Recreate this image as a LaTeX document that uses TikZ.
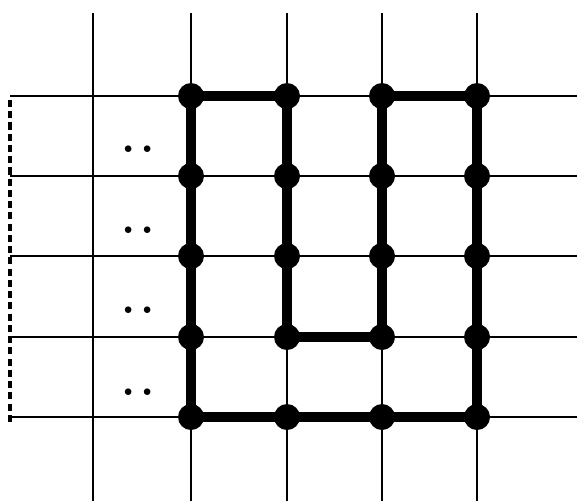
\documentclass[tikz,border=0pt]{standalone}
\usepackage{tikz}

\begin{document}
\begin{tikzpicture}[
x=0.02cm,
y=-0.02cm,
grid line/.style={
line width=1.2pt
},
side line/.style={
line width=2pt,
dash pattern=on 4pt off 2.4pt
},
tour/.style={
line width=5.4pt,
line join=round
},
vertex/.style={
circle,
fill,
inner sep=0pt,
minimum size=0.52cm
},
dots/.style={
anchor=base,
font=\bfseries\fontsize{26}{26}\selectfont
}
]

\useasboundingbox (0,0) rectangle (577,501);

% grid
\foreach \x in {93,191,287,382,477}
  \draw[grid line] (\x,13) -- (\x,501);
\foreach \y in {96,176,256,337,417}
  \draw[grid line] (10,\y) -- (577,\y);
\draw[side line] (10,100) -- (10,423);

% row dots
\foreach \y [count=\k] in {152,233,313,395}
  \node[dots] (d\k) at (138,\y) {.\kern3pt.};

% vertices
\foreach \x [count=\i] in {191,287,382,477}
  \foreach \y [count=\j] in {96,176,256,337,417}
    \node[vertex] (v\i\j) at (\x,\y) {};

\draw[tour] (v11.center) -- (v21.center) -- (v24.center) -- (v34.center)
  -- (v31.center) -- (v41.center) -- (v45.center) -- (v15.center) -- cycle;

\end{tikzpicture}
\end{document}
